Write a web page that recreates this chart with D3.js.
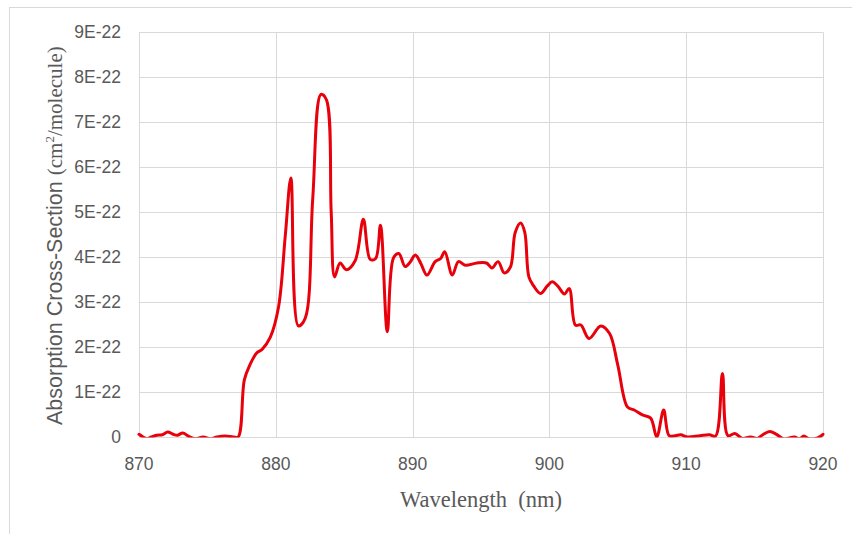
<!DOCTYPE html>
<html>
<head>
<meta charset="utf-8">
<script src="https://cdn.jsdelivr.net/npm/d3@7"></script>
<style>
  html, body { margin: 0; padding: 0; background: #ffffff; }
  svg { display: block; }
</style>
</head>
<body>
<svg id="chart" width="852" height="534"></svg>
<script>
// ---- data (cross-section values in units of 1E-22 cm^2/molecule) ----
const wavelength = [
  870.0, 870.3, 870.6, 870.9, 871.3, 871.7, 872.1, 872.5, 872.8, 873.2,
  873.6, 874.1, 874.7, 875.2, 875.7, 876.3, 876.9, 877.25, 877.7, 878.1,
  878.6, 879.0, 879.6, 880.2, 880.7, 881.1, 881.65, 882.15, 882.7, 883.3,
  883.7, 884.05, 884.3, 884.7, 885.15, 885.8, 886.4, 886.9, 887.3, 887.65,
  888.15, 888.6, 889.0, 889.45, 889.8, 890.2, 890.6, 891.05, 891.65, 892.05,
  892.35, 892.9, 893.35, 893.85, 894.7, 895.4, 895.8, 896.25, 896.7, 897.15,
  897.5, 897.9, 898.2, 898.5, 898.85, 899.35, 899.85, 900.2, 900.6, 901.1,
  901.45, 901.9, 902.3, 902.9, 903.75, 904.4, 905.0, 905.7, 906.2, 906.8,
  907.4, 907.85, 908.35, 908.75, 909.2, 909.6, 910.1, 911.0, 911.7, 912.15,
  912.65, 913.05, 913.55, 914.1, 914.7, 915.2, 915.6, 916.1, 916.6, 917.1,
  917.9, 918.3, 918.6, 919.0, 919.6, 920.0
];
const crossSection = [
  0.06, 0.0, -0.04, 0.0, 0.04, 0.05, 0.11, 0.06, 0.04, 0.09,
  0.02, -0.04, 0.0, -0.04, 0.0, 0.02, 0.0, 0.0, 1.27, 1.6,
  1.87, 1.95, 2.22, 2.89, 4.5, 5.76, 2.47, 2.64, 5.3, 7.62,
  7.5, 5.0, 3.56, 3.87, 3.72, 3.92, 4.84, 3.95, 3.97, 4.71,
  2.34, 3.98, 4.08, 3.79, 3.88, 4.05, 3.86, 3.6, 3.9, 3.97,
  4.12, 3.6, 3.9, 3.82, 3.87, 3.87, 3.76, 3.9, 3.65, 3.78,
  4.55, 4.76, 4.55, 3.56, 3.36, 3.19, 3.36, 3.45, 3.36, 3.18,
  3.3, 2.49, 2.49, 2.19, 2.47, 2.3, 1.6, 0.67, 0.6, 0.49,
  0.42, 0.0, 0.6, 0.03, 0.03, 0.05, 0.0, 0.03, 0.05, 0.02,
  1.41, 0.03, 0.08, -0.03, 0.0, -0.03, 0.05, 0.12, 0.06, -0.04,
  0.0, -0.04, 0.02, -0.04, -0.02, 0.06
];
const xTicks = [870, 880, 890, 900, 910, 920];
const yTicks = [0, 1, 2, 3, 4, 5, 6, 7, 8, 9];
const yTickLabels = ["0", "1E-22", "2E-22", "3E-22", "4E-22", "5E-22", "6E-22", "7E-22", "8E-22", "9E-22"];
const xTitle = "Wavelength  (nm)";
const yTitleSans = "Absorption Cross-Section ";
const yTitleSerif = ["(cm", "2", "/molecule)"];

// ---- layout ----
const W = 852, H = 534;
const plot = { left: 139, right: 823, top: 32.3, bottom: 437 };
const svg = d3.select("#chart");

svg.append("rect").attr("x", 0).attr("y", 0).attr("width", W).attr("height", H).attr("fill", "#fff");
// chart frame
svg.append("rect").attr("x", 9.5).attr("y", 7.5).attr("width", 900).attr("height", 600)
  .attr("fill", "none").attr("stroke", "#d9d9d9").attr("stroke-width", 1);

const x = d3.scaleLinear().domain([870, 920]).range([plot.left, plot.right]);
const y = d3.scaleLinear().domain([0, 9]).range([plot.bottom, plot.top]);

const grid = "#d9d9d9";
// horizontal gridlines
svg.append("g").selectAll("line").data(yTicks).join("line")
  .attr("x1", plot.left).attr("x2", plot.right)
  .attr("y1", d => Math.round(y(d)) + 0.5).attr("y2", d => Math.round(y(d)) + 0.5)
  .attr("stroke", grid).attr("stroke-width", 1);
// vertical gridlines
svg.append("g").selectAll("line").data(xTicks).join("line")
  .attr("y1", plot.top).attr("y2", plot.bottom)
  .attr("x1", d => Math.round(x(d)) + 0.5).attr("x2", d => Math.round(x(d)) + 0.5)
  .attr("stroke", grid).attr("stroke-width", 1);

// y tick labels
const tickFont = "'Liberation Sans', Arial, sans-serif";
svg.append("g").selectAll("text").data(yTicks).join("text")
  .attr("x", 121).attr("y", d => y(d) + 6)
  .attr("text-anchor", "end")
  .attr("font-family", tickFont).attr("font-size", 17.5).attr("fill", "#595959")
  .text((d, i) => yTickLabels[i]);

// x tick labels
svg.append("g").selectAll("text").data(xTicks).join("text")
  .attr("x", d => x(d)).attr("y", 470)
  .attr("text-anchor", "middle")
  .attr("font-family", tickFont).attr("font-size", 17.5).attr("fill", "#595959")
  .text(d => d);

// clip to plot area
svg.append("clipPath").attr("id", "clip").append("rect")
  .attr("x", plot.left - 2).attr("y", plot.top - 5)
  .attr("width", plot.right - plot.left + 4).attr("height", plot.bottom - plot.top + 5.5);

const data = wavelength.map((w, i) => [w, crossSection[i]]);
const line = d3.line().x(d => x(d[0])).y(d => y(d[1])).curve(d3.curveCatmullRom.alpha(0.5));
svg.append("path").datum(data)
  .attr("clip-path", "url(#clip)")
  .attr("d", line)
  .attr("fill", "none").attr("stroke", "#e8000b").attr("stroke-width", 3)
  .attr("stroke-linejoin", "round").attr("stroke-linecap", "round");

// x title
svg.append("text").attr("x", 481).attr("y", 507).attr("text-anchor", "middle")
  .attr("font-family", "'Liberation Serif', 'Times New Roman', serif").attr("font-size", 22.5)
  .attr("fill", "#595959").attr("xml:space", "preserve").style("white-space", "pre")
  .text(xTitle);

// y title
const yt = svg.append("text").attr("transform", "translate(61.5,425) rotate(-90)")
  .attr("text-anchor", "start").attr("fill", "#595959");
yt.append("tspan").attr("font-family", tickFont).attr("font-size", 21.5).style("white-space", "pre").text(yTitleSans);
yt.append("tspan").attr("font-family", "'Liberation Serif', 'Times New Roman', serif").attr("font-size", 21).text(yTitleSerif[0]);
yt.append("tspan").attr("font-family", "'Liberation Serif', 'Times New Roman', serif").attr("font-size", 13).attr("dy", -8).text(yTitleSerif[1]);
yt.append("tspan").attr("font-family", "'Liberation Serif', 'Times New Roman', serif").attr("font-size", 21).attr("dy", 8).text(yTitleSerif[2]);
</script>
</body>
</html>
